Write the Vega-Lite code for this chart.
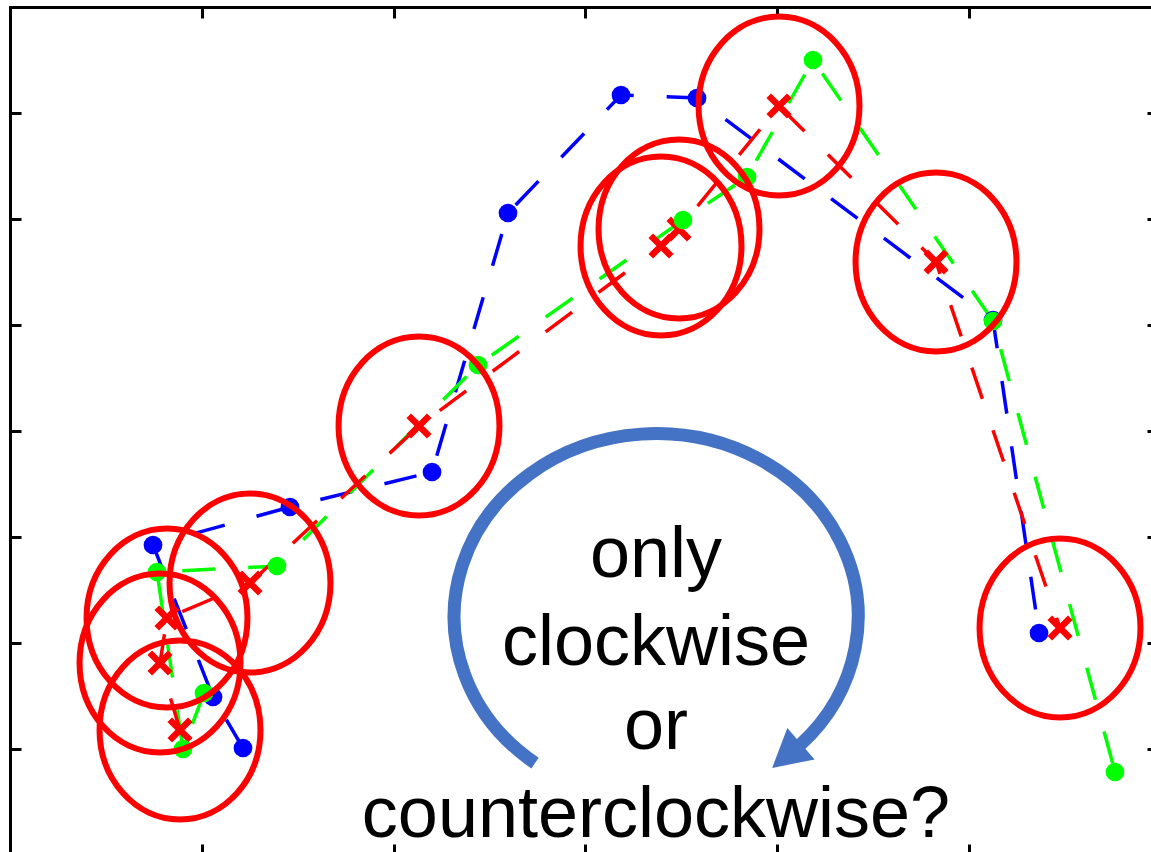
{
  "$schema": "https://vega.github.io/schema/vega-lite/v6.json",
  "width": 1141,
  "height": 845,
  "autosize": {"type": "none"},
  "padding": {"left": 10, "top": 7, "right": 0, "bottom": 0},
  "background": "white",
  "config": {"view": {"stroke": null}},
  "datasets": {
    "pts": [
      {"series": "blue", "order": 1, "x": 1.2151, "y": 1.0094},
      {"series": "blue", "order": 2, "x": 1.0587, "y": 1.4906},
      {"series": "blue", "order": 3, "x": 0.7458, "y": 2.9245},
      {"series": "blue", "order": 4, "x": 1.4602, "y": 3.2830},
      {"series": "blue", "order": 5, "x": 2.2008, "y": 3.6132},
      {"series": "blue", "order": 6, "x": 2.5971, "y": 6.0566},
      {"series": "blue", "order": 7, "x": 3.1864, "y": 7.1698},
      {"series": "blue", "order": 8, "x": 3.5828, "y": 7.1415},
      {"series": "blue", "order": 9, "x": 5.1265, "y": 5.0472},
      {"series": "blue", "order": 10, "x": 5.3664, "y": 2.0943},
      {"series": "green", "order": 1, "x": 1.0117, "y": 1.5283},
      {"series": "green", "order": 2, "x": 0.9022, "y": 1.0},
      {"series": "green", "order": 3, "x": 0.7666, "y": 2.6698},
      {"series": "green", "order": 4, "x": 1.3924, "y": 2.7264},
      {"series": "green", "order": 5, "x": 2.4407, "y": 4.6226},
      {"series": "green", "order": 6, "x": 3.5098, "y": 5.9906},
      {"series": "green", "order": 7, "x": 3.8436, "y": 6.3962},
      {"series": "green", "order": 8, "x": 4.1877, "y": 7.5},
      {"series": "green", "order": 9, "x": 5.1265, "y": 5.0377},
      {"series": "green", "order": 10, "x": 5.7627, "y": 0.7830},
      {"series": "red", "order": 1, "x": 0.8866, "y": 1.1792},
      {"series": "red", "order": 2, "x": 0.7823, "y": 1.8113},
      {"series": "red", "order": 3, "x": 0.8188, "y": 2.2358},
      {"series": "red", "order": 4, "x": 1.2516, "y": 2.5660},
      {"series": "red", "order": 5, "x": 2.1330, "y": 4.0472},
      {"series": "red", "order": 6, "x": 3.3951, "y": 5.7453},
      {"series": "red", "order": 7, "x": 3.4889, "y": 5.9057},
      {"series": "red", "order": 8, "x": 4.0104, "y": 7.0660},
      {"series": "red", "order": 9, "x": 4.8292, "y": 5.5943},
      {"series": "red", "order": 10, "x": 5.4759, "y": 2.1415}
    ],
    "arrow": [
      {"x": 3.3585, "y": 2.2642}
    ],
    "labels": [
      {"t": "only", "x": 3.369, "y": 2.6226},
      {"t": "clockwise", "x": 3.369, "y": 1.7925},
      {"t": "or", "x": 3.369, "y": 1.0},
      {"t": "counterclockwise?", "x": 3.369, "y": 0.1698}
    ]
  },
  "encoding": {
    "x": {"field": "x", "type": "quantitative", "scale": {"domain": [0, 5.9504], "nice": false, "zero": false}, "axis": null},
    "y": {"field": "y", "type": "quantitative", "scale": {"domain": [0.0283, 8], "nice": false, "zero": false}, "axis": null}
  },
  "layer": [
    {
      "data": {"name": "pts"},
      "mark": {"type": "line", "strokeWidth": 3.5, "strokeDash": [33, 33], "strokeCap": "butt"},
      "encoding": {
        "x": {"field": "x", "type": "quantitative", "scale": {"domain": [0, 5.9504], "nice": false, "zero": false},
          "axis": {"orient": "bottom", "offset": 3, "values": [1, 2, 3, 4, 5], "labels": false, "title": null, "grid": false,
            "domainColor": "black", "domainWidth": 3, "domainCap": "square", "tickColor": "black", "tickWidth": 3, "tickSize": -11}},
        "y": {"field": "y", "type": "quantitative", "scale": {"domain": [0.0283, 8], "nice": false, "zero": false},
          "axis": {"orient": "left", "values": [1, 2, 3, 4, 5, 6, 7], "labels": false, "title": null, "grid": false,
            "domainColor": "black", "domainWidth": 3, "domainCap": "square", "tickColor": "black", "tickWidth": 3, "tickSize": -11}},
        "color": {"field": "series", "type": "nominal", "scale": {"domain": ["blue", "green", "red"], "range": ["#0000FF", "#00FF00", "#FF0000"]}, "legend": null},
        "order": {"field": "order", "type": "quantitative"}
      }
    },
    {
      "data": {"name": "pts"},
      "transform": [{"filter": "datum.series == 'blue'"}],
      "mark": {"type": "point", "shape": "circle", "filled": true, "size": 350, "opacity": 1, "color": "#0000FF"},
      "encoding": {
        "x": {"field": "x", "type": "quantitative", "scale": {"domain": [0, 5.9504], "nice": false, "zero": false},
          "axis": {"orient": "top", "values": [1, 2, 3, 4, 5], "labels": false, "title": null, "grid": false,
            "domainColor": "black", "domainWidth": 3, "domainCap": "square", "tickColor": "black", "tickWidth": 3, "tickSize": -11}},
        "y": {"field": "y", "type": "quantitative", "scale": {"domain": [0.0283, 8], "nice": false, "zero": false},
          "axis": {"orient": "right", "offset": 7, "values": [1, 2, 3, 4, 5, 6, 7], "labels": false, "title": null, "grid": false,
            "domainColor": "black", "domainWidth": 3, "domainCap": "square", "tickColor": "black", "tickWidth": 3, "tickSize": -11}}
      }
    },
    {
      "data": {"name": "pts"},
      "transform": [{"filter": "datum.series == 'red'"}],
      "mark": {"type": "point", "shape": "M-1,-1L1,1M-1,1L1,-1", "filled": false, "size": 420, "opacity": 1, "color": "#FF0000", "strokeWidth": 6.5, "strokeCap": "butt"}
    },
    {
      "data": {"name": "pts"},
      "transform": [{"filter": "datum.series == 'green'"}],
      "mark": {"type": "point", "shape": "circle", "filled": true, "size": 350, "opacity": 1, "color": "#00FF00"}
    },
    {
      "data": {"name": "pts"},
      "transform": [{"filter": "datum.series == 'red'"}],
      "mark": {"type": "point", "shape": "M0,-1A0.899,1 0 1,1 0,1A0.899,1 0 1,1 0,-1Z", "filled": false, "size": 32041, "opacity": 1, "color": "#FF0000", "strokeWidth": 6}
    },
    {
      "data": {"name": "arrow"},
      "mark": {"type": "point", "shape": "M-0.589,0.733A1,0.906 0 1,1 0.723,0.644", "filled": false, "size": 163216, "opacity": 1, "color": "#4472C4", "strokeWidth": 13, "strokeCap": "butt"}
    },
    {
      "data": {"name": "arrow"},
      "mark": {"type": "point", "shape": "M0.585,0.757L0.66,0.56L0.795,0.715Z", "filled": true, "size": 163216, "opacity": 1, "color": "#4472C4"}
    },
    {
      "data": {"name": "labels"},
      "mark": {"type": "text", "font": "Liberation Sans", "fontSize": 72, "align": "center", "baseline": "alphabetic", "color": "black"},
      "encoding": {"text": {"field": "t", "type": "nominal"}}
    }
  ],
  "resolve": {"axis": {"x": "independent", "y": "independent"}}
}
